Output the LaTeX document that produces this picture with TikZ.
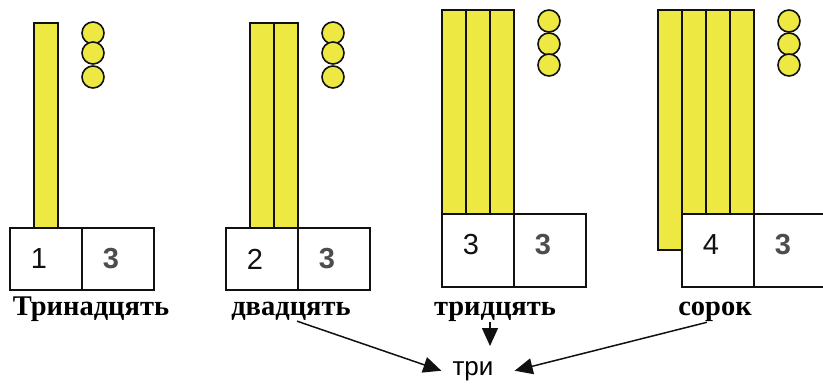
\documentclass[tikz,border=0pt]{standalone}
\usepackage{fontspec}
\setmainfont{Liberation Serif}
\newfontfamily\arialfont{Liberation Sans}
\usetikzlibrary{arrows.meta}
\definecolor{tallyyellow}{HTML}{EEE942}
\definecolor{tallyline}{HTML}{111111}
\definecolor{unitgray}{HTML}{4D4D4D}

\begin{document}
\begin{tikzpicture}[x=1pt,y=-1pt,>={Triangle[length=18pt,width=16pt]},
  bar/.style={draw=tallyline,line width=1.6pt,fill=tallyyellow},
  cell/.style={draw=tallyline,line width=1.6pt,fill=white},
  tens/.style={font=\arialfont\fontsize{29}{29}\selectfont,text=tallyline,inner sep=0pt},
  units/.style={font=\arialfont\bfseries\fontsize{29}{29}\selectfont,text=unitgray,inner sep=0pt},
  word/.style={font=\bfseries\fontsize{28.5}{28.5}\selectfont,anchor=base,inner sep=1pt},
  link/.style={->,line width=1.5pt,tallyline}]
  \useasboundingbox (0,0) rectangle (823,384);
  \clip (0,0) rectangle (823,384);
  % sticks of ten
  \draw[bar] (658,10) rectangle (682,250);
  \foreach \x/\n/\t/\b in {34/1/23/228, 250/2/23/228, 442/3/10/214, 682/3/10/214}
    \foreach \i in {1,...,\n}
      \draw[bar] (\x+24*\i-24,\t) rectangle (\x+24*\i,\b);
  % place-value tables
  \foreach \x/\t/\h/\d/\g in {10/228/62/1/1, 226/228/62/2/2, 442/214/73/3/3, 682/214/73/4/4}
  {
    \draw[cell] (\x,\t) rectangle +(72,\h);
    \draw[cell] (\x+72,\t) rectangle +(72,\h);
    \node[tens] (tens\g) at (\x+29,\t+31) {\d};
    \node[units] (units\g) at (\x+101,\t+31) {3};
  }
  % three single units
  \foreach \x/\ya/\yb/\yc in {93/33/53/77, 333/33/53/77, 549/21/44/65, 789/21/44/65}
    \foreach \y in {\ya,\yb,\yc}
      \draw[bar] (\x,\y) circle (11);
  % number words
  \node[word] (word1) at (91,315) {Тринадцять};
  \node[word] (word2) at (291,315) {двадцять};
  \node[word] (word3) at (495,315) {тридцять};
  \node[word] (word4) at (715,315) {сорок};
  \node[font=\arialfont\fontsize{26}{26}\selectfont,anchor=base,inner xsep=11pt,inner ysep=0pt] (tri) at (473,375) {три};
  \coordinate (down3) at (490,346);
  \draw[link] ([xshift=6pt]word2.south) -- (tri.west);
  \draw[link] ([xshift=-5pt]word3.south) -- (down3);
  \draw[link] ([xshift=-8pt]word4.south) -- ([xshift=10pt]tri.east);
\end{tikzpicture}
\end{document}
